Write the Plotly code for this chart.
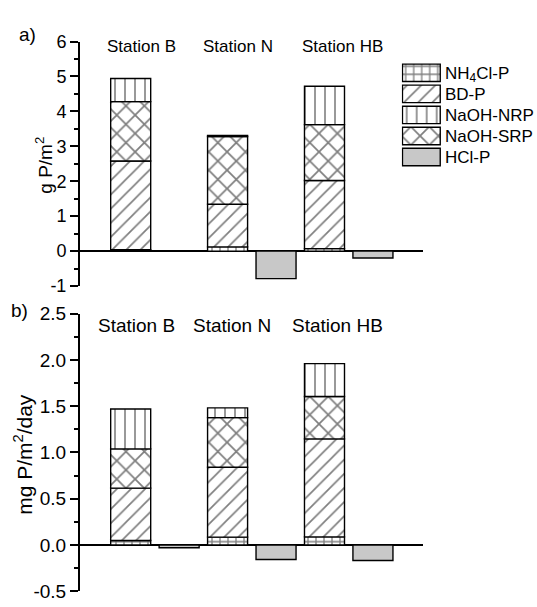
import plotly.graph_objects as go

W, H = 537, 607

stations = ["Station B", "Station N", "Station HB"]
stack_pos = [1, 3, 5]
hcl_pos = [2, 4, 6]

# Panel a) g P/m2 (segment increments, bottom to top)
a_nh4cl = [0.04, 0.12, 0.07]
a_bd = [2.54, 1.22, 1.95]
a_srp = [1.70, 1.94, 1.60]
a_nrp = [0.66, 0.03, 1.10]
a_hcl = [0.0, -0.79, -0.20]
a_ticks = [-1, 0, 1, 2, 3, 4, 5, 6]
a_ticktext = ["-1", "0", "1", "2", "3", "4", "5", "6"]

# Panel b) mg P/m2/day
b_nh4cl = [0.048, 0.084, 0.087]
b_bd = [0.566, 0.755, 1.059]
b_srp = [0.424, 0.537, 0.458]
b_nrp = [0.432, 0.105, 0.356]
b_hcl = [-0.03, -0.157, -0.168]
b_ticks = [-0.5, 0.0, 0.5, 1.0, 1.5, 2.0, 2.5]
b_ticktext = ["-0.5", "0.0", "0.5", "1.0", "1.5", "2.0", "2.5"]

legend_names = ["NH4Cl-P", "BD-P", "NaOH-NRP", "NaOH-SRP", "HCl-P"]
legend_text = ["NH<sub>4</sub>Cl-P", "BD-P", "NaOH-NRP", "NaOH-SRP", "HCl-P"]

FONT = "Liberation Sans, Arial, sans-serif"

def pat(shape, size, solidity):
    return dict(shape=shape, size=size, solidity=solidity, fgcolor="black",
                bgcolor="white", fillmode="overlay")

styles = {
    "NH4Cl-P": dict(color="white", pattern=pat("+", 8, 0.3)),
    "BD-P": dict(color="white", pattern=pat("/", 10, 0.17)),
    "NaOH-NRP": dict(color="white", pattern=pat("|", 10, 0.16)),
    "NaOH-SRP": dict(color="white", pattern=pat("x", 13, 0.25)),
    "HCl-P": dict(color="#c8c8c8"),
}

def marker(name):
    m = dict(styles[name])
    m["line"] = dict(color="black", width=1.4)
    return m

BW = 0.826
fig = go.Figure()

def add_panel(xa, ya, nh4, bd, srp, nrp, hcl):
    for name, vals in [("NH4Cl-P", nh4), ("BD-P", bd), ("NaOH-SRP", srp), ("NaOH-NRP", nrp)]:
        fig.add_trace(go.Bar(x=stack_pos, y=vals, width=BW, marker=marker(name),
                             xaxis=xa, yaxis=ya, showlegend=False, name=name))
    fig.add_trace(go.Bar(x=hcl_pos, y=hcl, width=BW, marker=marker("HCl-P"),
                         xaxis=xa, yaxis=ya, showlegend=False, name="HCl-P"))

add_panel("x", "y", a_nh4cl, a_bd, a_srp, a_nrp, a_hcl)
add_panel("x2", "y2", b_nh4cl, b_bd, b_srp, b_nrp, b_hcl)

# custom legend as a small bar subplot
for name in legend_names:
    fig.add_trace(go.Bar(x=[1], y=[name], base=0, orientation="h", width=0.83,
                         marker=marker(name), xaxis="x3", yaxis="y3", showlegend=False))

xdom = [80 / W, 422.7 / W]
xr = [-0.046, 7.027]
ax_common = dict(showgrid=False, showline=True, linecolor="black", linewidth=2,
                 ticks="outside", ticklen=8, tickwidth=2, tickcolor="black",
                 zeroline=True, zerolinecolor="black", zerolinewidth=1.8)

fig.update_layout(
    width=W, height=H, margin=dict(l=0, r=0, t=0, b=0),
    paper_bgcolor="white", plot_bgcolor="white",
    barmode="relative", showlegend=False,
    font=dict(family=FONT, color="black"),
    xaxis=dict(domain=xdom, range=xr, visible=False, anchor="y"),
    xaxis2=dict(domain=xdom, range=xr, visible=False, anchor="y2"),
    yaxis=dict(domain=[1 - 285.4 / H, 1 - 32.6 / H], range=[-1, 6],
               tickvals=a_ticks, ticktext=a_ticktext, anchor="x",
               tickfont=dict(size=18, color="black", family=FONT),
               minor=dict(dtick=0.5, ticks="outside", ticklen=4, tickwidth=2, tickcolor="black"),
               **ax_common),
    yaxis2=dict(domain=[1 - 601 / H, 1 - 314 / H], range=[-0.5, 2.5],
                tickvals=b_ticks, ticktext=b_ticktext, anchor="x2",
                tickfont=dict(size=19, color="black", family=FONT),
                minor=dict(dtick=0.25, ticks="outside", ticklen=4, tickwidth=2, tickcolor="black"),
                **ax_common),
    xaxis3=dict(domain=[401.7 / W, 441 / W], range=[-0.02, 1.02], visible=False, anchor="y3"),
    yaxis3=dict(domain=[1 - 162.9 / H, 1 - 54.1 / H], type="category",
                categoryorder="array", categoryarray=legend_names[::-1],
                tickvals=legend_names, ticktext=legend_text,
                side="right", ticks="", showline=False, showgrid=False, zeroline=False,
                ticklabelstandoff=3, anchor="x3",
                tickfont=dict(size=17, color="black", family=FONT)),
)

ann = []
def txt(t, x, y, size, angle=0):
    ann.append(dict(text=t, x=x / W, y=1 - y / H, xref="paper", yref="paper",
                    showarrow=False, xanchor="center", yanchor="middle",
                    textangle=angle, font=dict(size=size, color="black", family=FONT)))

txt("a)", 27, 25, 19)
txt("b)", 19, 311, 19)
for s, cx in zip(stations, [141.7, 238, 342]):
    txt(s, cx, 38, 17)
for s, cx in zip(stations, [136, 232, 337]):
    txt(s, cx, 326, 19)
txt("g P/m<sup>2</sup>", 44, 161, 19, -90)
txt("mg P/m<sup>2</sup>/day", 23, 460, 21, -90)
fig.update_layout(annotations=ann)

fig.write_html("out.html")
